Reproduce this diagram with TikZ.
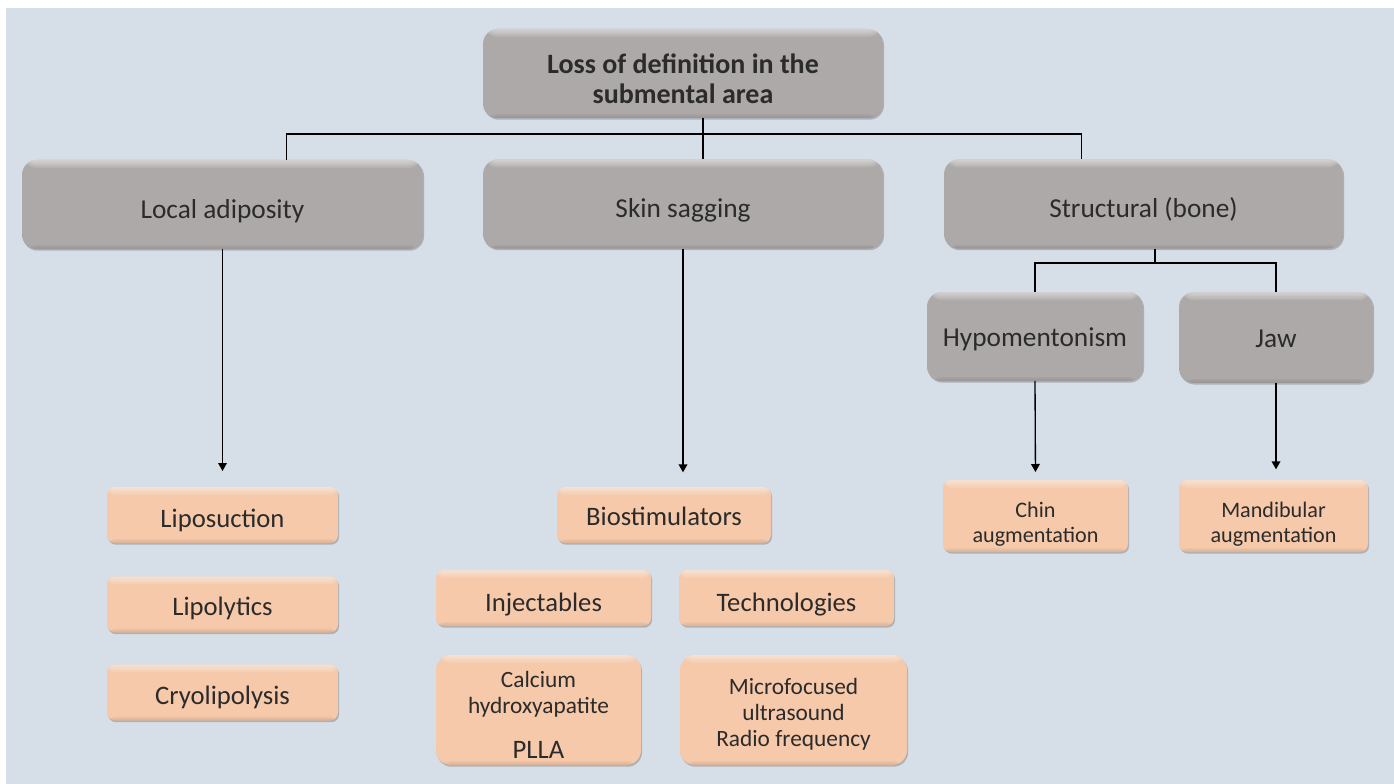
\documentclass[tikz,border=0pt]{standalone}
\usepackage{fontspec}
\setmainfont{Carlito}
\usetikzlibrary{arrows.meta, positioning, shadows}
\definecolor{bgblue}{HTML}{D6DEE8}
\definecolor{boxgrey}{HTML}{ADA9A8}
\definecolor{peach}{HTML}{F6C9AA}
\definecolor{inktext}{HTML}{2B2B2B}
% extra room above the first line of a multi-line node
\newcommand\padtop[1]{\rule{0pt}{\dimexpr\fontcharht\font`\l+#1\relax}}

\begin{document}
\begin{tikzpicture}[
  x=0.75pt, y=-0.75pt,
  base/.style={rectangle, outer sep=0pt, inner sep=2pt, align=center, text=inktext,
    drop shadow={shadow xshift=0.8pt, shadow yshift=-1.3pt, opacity=0.3, fill=black!70},
    path picture={
      \foreach \k in {1,...,6}
        \fill[white, opacity=0.1] (path picture bounding box.north west) rectangle ([yshift=-\k pt]path picture bounding box.north east);
      \foreach \k in {1,...,3}
        \fill[black, opacity=0.03] (path picture bounding box.south west) rectangle ([yshift=\k pt]path picture bounding box.south east);
    }},
  greybox/.style={base, fill=boxgrey, rounded corners=11pt, minimum height=66.75pt,
    font=\fontsize{20.5}{24}\selectfont, text height=21pt, text depth=0pt},
  peachbox/.style={base, fill=peach, rounded corners=6pt, minimum height=42pt,
    font=\fontsize{20}{24}\selectfont, text height=18pt, text depth=0pt},
  multiline/.style={text height=, text depth=},
  smalltext/.style={font=\fontsize{17.5}{19.5}\selectfont},
  link/.style={line width=1.1pt},
  arrow/.style={line width=1pt, -{Triangle[length=6pt, width=6.5pt]}, shorten >=12pt}
]

% Background
\useasboundingbox (0,0) rectangle (1394,784);
\fill[white] (0,0) rectangle (1394,784);
\fill[bgblue] (6,8) rectangle (1394,784);

% Top node
\node[greybox, multiline, minimum width=300pt, font=\fontsize{21}{22.5}\selectfont\bfseries] (root) at (683,73.5)
  {\padtop{7.5pt}Loss of definition in the\\submental area};

% Causes
\node[greybox, minimum width=300.75pt] (adipo) at (222.5,204.5) {Local adiposity};
\node[greybox, minimum width=300pt] (sagging) at (683,204) {Skin sagging};
\node[greybox, minimum width=299.25pt] (struct) at (1143.5,204) {Structural (bone)};

% Structural subtypes
\node[greybox, text height=15pt, minimum width=162pt] (hypo) at (1035,336.5) {Hypomentonism};
\node[greybox, text height=15pt, minimum width=145.5pt, minimum height=68pt] (jaw) at (1276,337.5) {Jaw};

% Treatments, local adiposity
\node[peachbox, minimum width=173.25pt] (lipo) at (222.5,515) {Liposuction};
\node[peachbox, text height=16pt, minimum width=173.25pt] (lipoly) at (222.5,604.5) {Lipolytics};
\node[peachbox, minimum width=173.25pt] (cryo) at (222.5,692.5) {Cryolipolysis};

% Treatments, skin sagging
\node[peachbox, text height=16pt, minimum width=160.5pt] (biostim) at (664,515) {Biostimulators};
\node[peachbox, text height=20pt, minimum width=161.25pt] (inject) at (543.5,598) {Injectables};
\node[peachbox, text height=20pt, minimum width=161.25pt] (techno) at (786.5,598) {Technologies};
\node[peachbox, multiline, smalltext, rounded corners=11pt, minimum width=153.75pt, minimum height=82.5pt] (calcium) at (538.5,710)
  {\padtop{7.5pt}Calcium\\hydroxyapatite\\[14pt]{\fontsize{20}{24}\selectfont PLLA}};
\node[peachbox, multiline, smalltext, rounded corners=11pt, minimum width=170.25pt, minimum height=82.5pt] (micro) at (793.5,710)
  {\padtop{6pt}Microfocused\\ultrasound\\Radio frequency};

% Treatments, structural
\node[peachbox, multiline, font=\fontsize{16.6}{18.75}\selectfont, minimum width=138.75pt, minimum height=54pt] (chin) at (1035.5,516)
  {\padtop{12pt}Chin\\augmentation};
\node[peachbox, multiline, font=\fontsize{16.6}{18.75}\selectfont, minimum width=141.75pt, minimum height=54pt] (mandib) at (1273.5,516)
  {\padtop{12pt}Mandibular\\augmentation};

% Tree connectors
\coordinate (bar) at (703,134);
\draw[link] (root.south -| bar) -- (sagging.north -| bar);
\draw[link] ([xshift=48pt]adipo.north) |- (bar) -| ([xshift=-46.5pt]struct.north);
\coordinate (sbar) at (1155,263);
\draw[link] (struct.south -| sbar) -- (sbar);
\draw[link] (hypo.north) |- (sbar) -| (jaw.north);

% Arrows to treatments
\draw[arrow] (adipo.south) -- (lipo.north);
\draw[arrow, shorten >=11pt] (sagging.south) -- (sagging.south |- biostim.north);
\draw[arrow, shorten >=6pt] (hypo.south) -- (chin.north);
\draw[arrow, shorten >=8pt] (jaw.south) -- (jaw.south |- mandib.north);

\end{tikzpicture}
\end{document}
